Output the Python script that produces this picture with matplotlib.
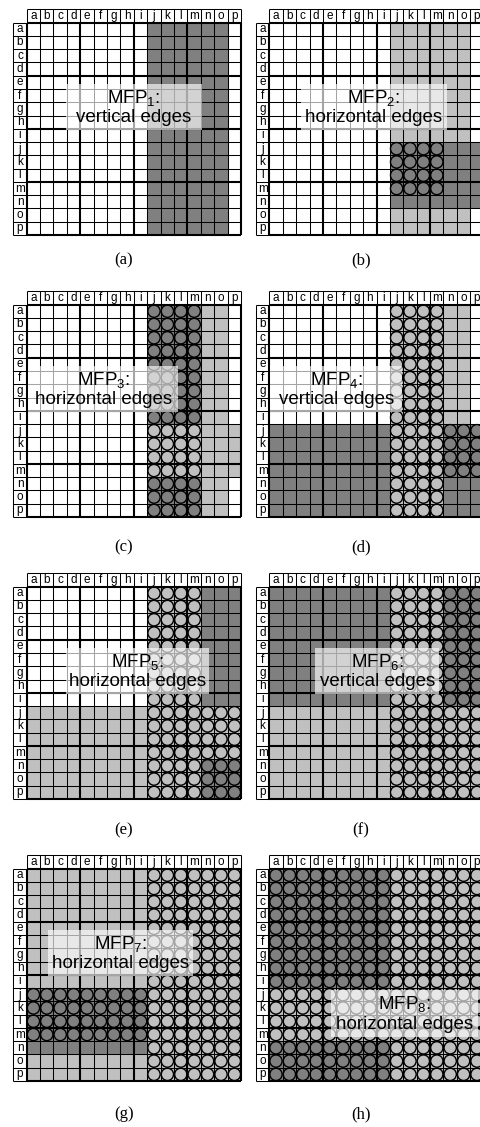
import matplotlib
matplotlib.use('Agg')
import matplotlib.pyplot as plt
import numpy as np
from matplotlib.colors import ListedColormap
from matplotlib.patches import Rectangle

plt.rcParams['font.family'] = ['Liberation Sans', 'DejaVu Sans']
plt.rcParams['mathtext.fontset'] = 'custom'
plt.rcParams['mathtext.rm'] = 'Liberation Sans'
plt.rcParams['mathtext.default'] = 'regular'

LETTERS = list('abcdefghijklmnop')
CAPTIONS = ['(a)', '(b)', '(c)', '(d)', '(e)', '(f)', '(g)', '(h)']
MFP_IDS = [1, 2, 3, 4, 5, 6, 7, 8]
EDGE_TYPES = ['vertical', 'horizontal', 'horizontal', 'vertical',
              'horizontal', 'vertical', 'horizontal', 'horizontal']

# (rows, cols) letter ranges per panel
LIGHT = [
    [],
    [('a-p', 'j-o')],
    [('a-p', 'n-o'), ('j-m', 'j-p')],
    [('a-i', 'n-o'), ('a-p', 'j-m')],
    [('j-p', 'a-i'), ('a-p', 'j-m'), ('j-m', 'n-p')],
    [('j-p', 'a-i'), ('a-p', 'j-m'), ('j-p', 'n-p')],
    [('a-p', 'a-p')],
    [('a-p', 'a-p')],
]
DARK = [
    [('a-p', 'j-o')],
    [('j-n', 'j-p')],
    [('a-i', 'j-m'), ('n-p', 'j-m')],
    [('j-p', 'a-i'), ('j-p', 'n-p')],
    [('a-i', 'n-p'), ('n-p', 'n-p')],
    [('a-i', 'a-i'), ('a-i', 'n-p')],
    [('j-n', 'a-i')],
    [('a-i', 'a-i'), ('n-p', 'a-i')],
]
CIRCLES = [
    [],
    [('j-m', 'j-m')],
    [('a-p', 'j-m')],
    [('a-p', 'j-m'), ('j-m', 'n-p')],
    [('a-p', 'j-m'), ('j-p', 'n-p')],
    [('a-p', 'j-p')],
    [('j-m', 'a-i'), ('a-p', 'j-p')],
    [('a-p', 'a-p')],
]

# layout (pixels / cell units)
W, H = 481, 1127
PANEL_LEFT = [13.3, 255.9]
PANEL_TOP = [9.3, 291.3, 573.3, 855.3]
CAPTION_Y = [260, 547, 830, 1114]
PANEL_W, PANEL_H = 227.8, 225.7
CAPTION_X = [124, 361]
BOX_CX = [8.0, 7.8, 5.7, 5.0, 8.25, 8.05, 7.0, 10.1]
BOX_CY = [6.35, 6.35, 6.35, 6.35, 6.35, 6.35, 6.35, 10.9]
BOX_W = [10.2, 10.85, 11.2, 9.85, 10.7, 9.3, 10.83, 10.94]
BOX_H = 3.5


def span(r):
    a, b = r.split('-')
    return LETTERS.index(a), LETTERS.index(b) + 1


def region_matrix(regions, value, m):
    for rows, cols in regions:
        r0, r1 = span(rows)
        c0, c1 = span(cols)
        m[r0:r1, c0:c1] = value
    return m


def draw_panel(ax, i):
    shade = np.zeros((16, 16))
    region_matrix(LIGHT[i], 1, shade)
    region_matrix(DARK[i], 2, shade)
    cmap = ListedColormap(['white', '#c0c0c0', '#808080'])
    ax.imshow(shade, cmap=cmap, vmin=0, vmax=2, extent=(0, 16, 16, 0),
              interpolation='nearest', aspect='auto', zorder=1)

    thin = 0.75
    thick = 1.5
    for k in range(17):
        lw = thick if k % 4 == 0 else thin
        ax.vlines(k, 0, 16, colors='black', lw=lw, zorder=3, clip_on=False)
        ax.hlines(k, 0, 16, colors='black', lw=lw, zorder=3, clip_on=False)
        ax.vlines(k, -1, 0, colors='black', lw=thin, zorder=3, clip_on=False)
        ax.hlines(k, -1, 0, colors='black', lw=thin, zorder=3, clip_on=False)
    ax.hlines(-1, 0, 16, colors='black', lw=thin, zorder=3, clip_on=False)
    ax.vlines(-1, 0, 16, colors='black', lw=thin, zorder=3, clip_on=False)

    for k, ch in enumerate(LETTERS):
        ax.text(k + 0.5, -0.5, ch, ha='center', va='center', fontsize=8.5, zorder=4)
        ax.text(-0.5, k + 0.5, ch, ha='center', va='center', fontsize=8.5, zorder=4)

    circ = np.zeros((16, 16))
    region_matrix(CIRCLES[i], 1, circ)
    rr, cc = np.nonzero(circ)
    if len(rr):
        ax.scatter(cc + 0.5, rr + 0.5, s=78, facecolors='none',
                   edgecolors='black', linewidths=1.0, zorder=4)

    ax.add_patch(Rectangle((BOX_CX[i] - BOX_W[i] / 2, BOX_CY[i] - BOX_H / 2),
                           BOX_W[i], BOX_H, facecolor='white', alpha=0.65,
                           edgecolor='none', zorder=5))
    ax.text(BOX_CX[i], BOX_CY[i], f'MFP$_{{{MFP_IDS[i]}}}$:\n{EDGE_TYPES[i]} edges',
            ha='center', va='center', ma='center', fontsize=13.5,
            linespacing=1.12, zorder=6)

    ax.set_xlim(-1, 16)
    ax.set_ylim(16, -1)
    ax.axis('off')


def main():
    fig = plt.figure(figsize=(W / 100, H / 100), dpi=100)
    for i in range(8):
        row, col = divmod(i, 2)
        left = PANEL_LEFT[col] / W
        bottom = 1 - (PANEL_TOP[row] + PANEL_H) / H
        ax = fig.add_axes([left, bottom, PANEL_W / W, PANEL_H / H])
        draw_panel(ax, i)
        fig.text(CAPTION_X[col] / W, 1 - CAPTION_Y[row] / H, CAPTIONS[i],
                 ha='center', va='center', fontsize=12, family='Liberation Serif')
    fig.savefig('out.png', dpi=100)


if __name__ == '__main__':
    main()
